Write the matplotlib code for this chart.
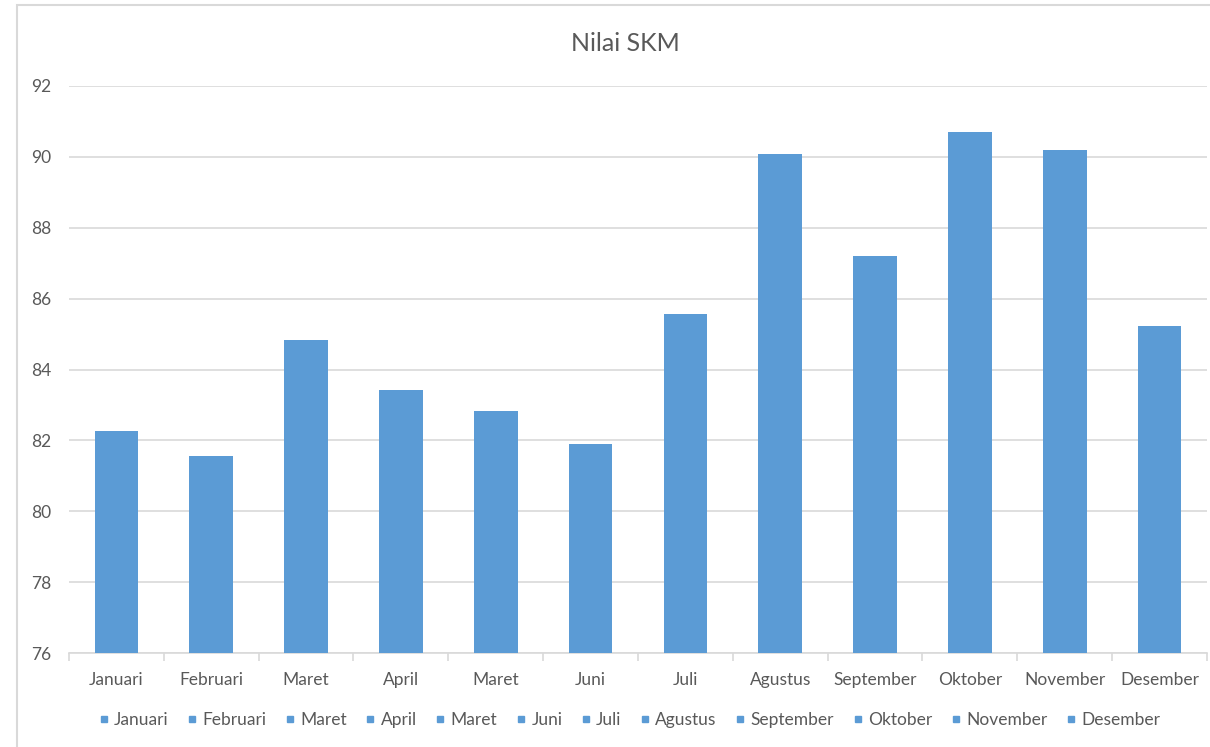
import numpy as np
import matplotlib.pyplot as plt
from matplotlib.lines import Line2D
from matplotlib.patches import Rectangle

bulan = ["Januari", "Februari", "Maret", "April", "Maret", "Juni", "Juli",
         "Agustus", "September", "Oktober", "November", "Desember"]
nilai = [82.26, 81.56, 84.83, 83.42, 82.82, 81.90, 85.57, 90.08, 87.20, 90.70, 90.19, 85.23]

warna = "#5b9bd5"
teks = "#595959"
plt.rcParams['font.family'] = ['Lato', 'DejaVu Sans']

fig = plt.figure(figsize=(12.1, 7.47), dpi=100)
ax = fig.add_axes([0.057, 0.1258, 0.9405, 0.7591])

x = np.arange(len(bulan))
ax.bar(x, np.array(nilai) - 76, bottom=76, width=0.46, color=warna, zorder=3)

ax.set_ylim(76, 92)
ax.set_xlim(-0.5, len(bulan) - 0.5)
ax.set_yticks(np.arange(76, 93, 2))
ax.set_xticks(x)
ax.set_xticklabels(bulan)
ax.set_xticks(np.arange(-0.5, len(bulan), 1), minor=True)
ax.tick_params(axis='x', which='major', length=0, pad=14, labelsize=12.5, labelcolor=teks)
ax.tick_params(axis='x', which='minor', length=6, color="#d9d9d9", width=1.2)
ax.tick_params(axis='y', length=0, pad=13, labelsize=12.5, labelcolor=teks)
ax.grid(axis='y', color="#d9d9d9", linewidth=1.2, zorder=0)
for s in ['top', 'right', 'left']:
    ax.spines[s].set_visible(False)
ax.spines['bottom'].set_color("#d9d9d9")
ax.spines['bottom'].set_linewidth(1.2)

fig.text(0.517, 0.942, "Nilai SKM", fontsize=18, color=teks, ha='center', va='center')

handles = [Line2D([], [], marker='s', linestyle='none', color=warna, markersize=5) for _ in bulan]
fig.legend(handles, bulan, loc='center', bbox_to_anchor=(0.519, 0.036), ncol=12,
           frameon=False, fontsize=12.5, labelcolor=teks, handletextpad=0.15,
           columnspacing=0.9, handlelength=0.9)

fig.patches.append(Rectangle((0.014, -0.01), 1.0, 1.003, transform=fig.transFigure,
                             fill=False, edgecolor="#d9d9d9", linewidth=1.5))

fig.savefig("out.png", dpi=100)
